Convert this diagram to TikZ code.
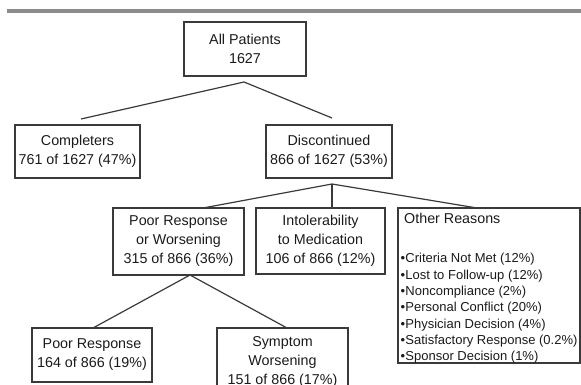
\documentclass[tikz,border=0pt]{standalone}
\usepackage{fontspec}
\setmainfont{Liberation Sans}
\definecolor{boxline}{HTML}{3A3A3A}
\definecolor{ink}{HTML}{1A1A1A}
\definecolor{rulegray}{HTML}{8C8C8C}
\begin{document}
\begin{tikzpicture}[x=1pt,y=-1pt,
  box/.style={draw=boxline, line width=1.2pt, text=ink, align=center,
    inner sep=0pt, font=\fontsize{14.3}{19}\selectfont},
  link/.style={draw=boxline, line width=1.2pt},
  label/.style={text=ink, inner sep=0pt, align=left, anchor=base west},
]
\useasboundingbox (0,0) rectangle (581,385);
\clip (0,0) rectangle (581,385);

% rule across the top
\fill[rulegray] (7,9) rectangle (581,13);

% boxes
\node[box, minimum width=122pt, minimum height=54pt] (all) at (245,49)
  {All Patients\\1627};
\node[box, minimum width=125pt, minimum height=53pt] (comp) at (77.5,151.5)
  {Completers\\761 of 1627 (47\%)};
\node[box, minimum width=126pt, minimum height=53pt] (disc) at (329,151.5)
  {Discontinued\\866 of 1627 (53\%)};
\node[box, minimum width=131pt, minimum height=67pt] (prw) at (178.5,241.5)
  {Poor Response\\or Worsening\\315 of 866 (36\%)};
\node[box, minimum width=129pt, minimum height=66pt] (intol) at (320.5,241)
  {Intolerability\\to Medication\\106 of 866 (12\%)};
\node[box, minimum width=182pt, minimum height=155pt] (other) at (489,285.5) {};
\node[box, minimum width=120pt, minimum height=54pt] (poor) at (92,355)
  {Poor Response\\164 of 866 (19\%)};
\node[box, minimum width=131pt, minimum height=67pt] (symp) at (282.5,361.5)
  {Symptom\\Worsening\\151 of 866 (17\%)};

% contents of the "Other Reasons" box (base = baseline of the last line)
\node[label, font=\fontsize{14.3}{19}\selectfont] (othertitle) at (404,223) {Other Reasons};
\node[label, font=\fontsize{13}{16.3}\selectfont] (otherlist) at (400.5,360.7)
  {•\kern0.2pt Criteria Not Met (12\%)\\
   •\kern0.2pt Lost to Follow-up (12\%)\\
   •\kern0.2pt Noncompliance (2\%)\\
   •\kern0.2pt Personal Conflict (20\%)\\
   •\kern0.2pt Physician Decision (4\%)\\
   •\kern0.2pt Satisfactory Response (0.2\%)\\
   •\kern0.2pt Sponsor Decision (1\%)};

% branch points and line ends
\coordinate (j1) at (244,82);
\coordinate (compend) at (81,119);
\coordinate (discend) at (332,118);
\coordinate (j2) at (332,184);
\coordinate (prwend) at (203,208);
\coordinate (intolend) at (332,208);
\coordinate (otherend) at (477,208);
\coordinate (j3) at (190,275);
\coordinate (poorend) at (93,328);
\coordinate (sympend) at (287,328);

% connectors
\draw[link] (compend) -- (j1) -- (discend);
\draw[link] (prwend) -- (j2) -- (otherend);
\draw[link] (j2) -- (intolend);
\draw[link] (poorend) -- (j3) -- (sympend);
\end{tikzpicture}
\end{document}
